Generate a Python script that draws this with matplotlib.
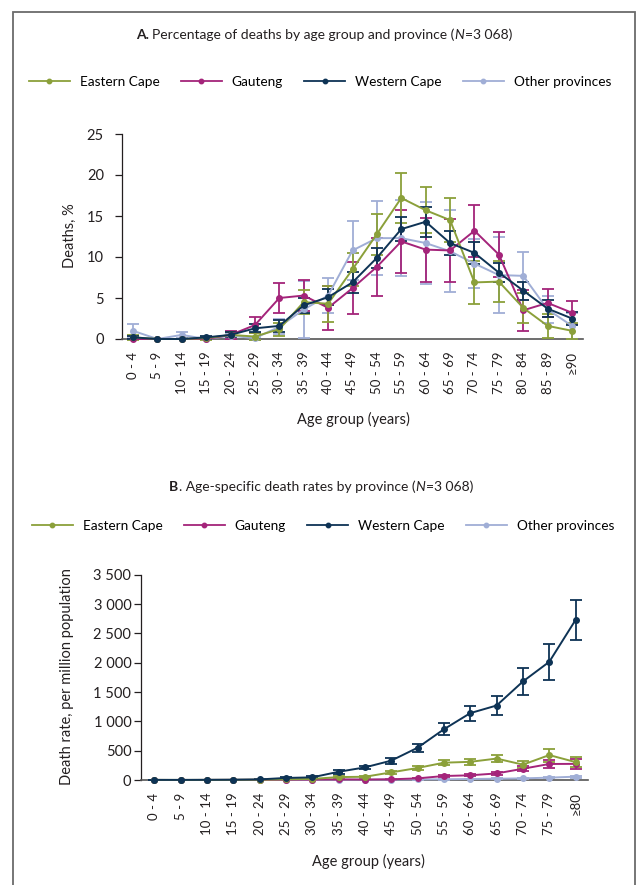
import matplotlib
matplotlib.use('Agg')
import matplotlib.pyplot as plt
from matplotlib.lines import Line2D
from matplotlib.patches import Rectangle
import numpy as np

plt.rcParams['font.family'] = ['Lato', 'DejaVu Sans']

# ---------------- data ----------------
series_names = ["Eastern Cape", "Gauteng", "Western Cape", "Other provinces"]
colors = ["#8BA03A", "#A4247A", "#0E3355", "#A0AED6"]

age_a = ["0 - 4", "5 - 9", "10 - 14", "15 - 19", "20 - 24", "25 - 29", "30 - 34",
         "35 - 39", "40 - 44", "45 - 49", "50 - 54", "55 - 59", "60 - 64", "65 - 69",
         "70 - 74", "75 - 79", "80 - 84", "85 - 89", "≥90"]

ec_pct = [0.2, 0, 0, 0.1, 0.5, 0.3, 1.2, 4.5, 4.3, 8.5, 12.8, 17.2, 15.7, 14.5, 6.9, 7.0, 3.8, 1.6, 1.0]
ec_pct_err = [0.3, 0, 0, 0.2, 0.3, 0.4, 0.8, 1.5, 2.2, 2.0, 2.5, 3.0, 2.8, 2.7, 2.6, 2.5, 1.8, 1.5, 1.0]
gp_pct = [0, 0, 0, 0, 0.5, 1.7, 5.0, 5.3, 3.8, 6.2, 8.8, 11.9, 10.9, 10.8, 13.2, 10.3, 3.5, 4.4, 3.2]
gp_pct_err = [0, 0, 0, 0, 0.5, 1.0, 1.8, 1.9, 2.7, 3.2, 3.5, 3.8, 3.9, 3.8, 3.2, 2.7, 2.5, 1.7, 1.4]
wc_pct = [0.2, 0, 0, 0.2, 0.5, 1.3, 1.6, 4.1, 5.1, 6.9, 9.9, 13.4, 14.3, 11.7, 10.5, 8.1, 5.9, 3.7, 2.5]
wc_pct_err = [0.2, 0, 0, 0.2, 0.3, 0.5, 0.7, 0.9, 1.0, 1.3, 1.2, 1.5, 1.8, 1.5, 1.3, 1.2, 1.1, 1.0, 0.8]
op_pct = [1.0, 0, 0.5, 0, 0.4, 0.1, 1.5, 3.6, 5.3, 10.8, 12.3, 12.3, 11.7, 10.7, 9.2, 7.8, 7.7, 3.6, 1.6]
op_pct_err = [0.8, 0, 0.4, 0, 0.3, 0.2, 0.9, 3.5, 2.1, 3.6, 4.5, 4.6, 5.0, 5.0, 3.0, 4.6, 2.9, 1.6, 1.6]

age_b = ["0 - 4", "5 - 9", "10 - 14", "15 - 19", "20 - 24", "25 - 29", "30 - 34",
         "35 - 39", "40 - 44", "45 - 49", "50 - 54", "55 - 59", "60 - 64", "65 - 69",
         "70 - 74", "75 - 79", "≥80"]

ec_rate = [2, 1, 2, 3, 5, 12, 18, 50, 55, 130, 205, 295, 310, 365, 262, 425, 305]
ec_rate_err = [2, 1, 2, 2, 3, 6, 8, 15, 15, 25, 35, 45, 50, 65, 65, 110, 80]
gp_rate = [1, 0, 1, 2, 3, 5, 8, 10, 8, 12, 28, 68, 80, 112, 192, 273, 275]
gp_rate_err = [1, 0, 1, 1, 2, 3, 4, 5, 4, 5, 10, 15, 18, 30, 40, 75, 85]
wc_rate = [2, 2, 3, 5, 10, 35, 45, 140, 215, 330, 550, 865, 1140, 1270, 1680, 2015, 2730]
wc_rate_err = [2, 2, 2, 3, 5, 12, 15, 30, 32, 50, 70, 105, 130, 160, 225, 310, 340]
op_rate = [1, 0, 1, 1, 2, 3, 4, 5, 5, 8, 10, 12, 17, 22, 28, 40, 57]
op_rate_err = [1, 0, 1, 1, 1, 2, 2, 3, 3, 3, 4, 5, 6, 7, 8, 10, 15]

yticks_a = [0, 5, 10, 15, 20, 25]
yticks_b = [0, 500, 1000, 1500, 2000, 2500, 3000, 3500]
yticklabels_b = ["0", "500", "1 000", "1 500", "2 000", "2 500", "3 000", "3 500"]

# ---------------- layout ----------------
W, H = 638, 885
fig = plt.figure(figsize=(W / 100, H / 100), dpi=100)
renderer = fig.canvas.get_renderer()


def fx(px):
    return px / W


def fy(py):
    return 1 - py / H


FS = 9.5
TXT = "#231f20"

# frame
fig.patches.append(Rectangle((fx(13), fy(900)), fx(635) - fx(13), (900 - 12) / H,
                             transform=fig.transFigure, fill=False,
                             edgecolor="#6b6b6b", linewidth=1.3, clip_on=False))


def rich_title(pieces, xc_px, y_px, fs):
    # pieces: (text, weight, style, gap_before_px)
    texts = []
    widths = []
    for (s, w, st, gap) in pieces:
        t = fig.text(0, fy(y_px), s, fontsize=fs, fontweight=w, fontstyle=st,
                     ha='left', va='center', color=TXT)
        texts.append(t)
        widths.append(t.get_window_extent(renderer).width)
    total = sum(widths) + sum(p[3] for p in pieces)
    x = xc_px - total / 2
    for t, wdt, p in zip(texts, widths, pieces):
        x += p[3]
        t.set_x(fx(x))
        x += wdt


def style_axes(ax, labels, ylim, yticks, yticklabels, ypad):
    x = np.arange(len(labels))
    ax.set_xticks(x)
    ax.set_xticklabels(labels, rotation=90, fontsize=FS, color=TXT)
    ax.tick_params(axis='x', length=0, pad=9)
    ax.set_ylim(*ylim)
    ax.set_yticks(yticks)
    ax.set_yticklabels(yticklabels, fontsize=FS + 1, color=TXT)
    ax.tick_params(axis='y', length=5, width=0.9, pad=ypad, color=TXT)
    for s in ["top", "right"]:
        ax.spines[s].set_visible(False)
    ax.spines["left"].set_color(TXT)
    ax.spines["left"].set_linewidth(0.9)
    ax.spines["bottom"].set_color("#555555")
    ax.spines["bottom"].set_linewidth(1.2)


def draw_series(ax, data):
    for (vals, errs, c) in data:
        x = np.arange(len(vals))
        ax.errorbar(x, vals, yerr=errs, color=c, marker='o', ms=4.0, lw=1.4,
                    elinewidth=1.3, capsize=4.5, capthick=1.3, ecolor=c,
                    clip_on=False, zorder=3)


def legend(y_px, x_center_px):
    handles = [Line2D([0], [0], color=c, lw=1.3, marker='o', ms=3.2) for c in colors]
    fig.legend(handles, series_names, loc='center',
               bbox_to_anchor=(fx(x_center_px), fy(y_px)), ncol=4, frameon=False,
               fontsize=FS + 0.3, handlelength=3.0, handletextpad=0.75,
               columnspacing=1.55, numpoints=1, borderpad=0, borderaxespad=0)


# ---- Panel A ----
axA = fig.add_axes([fx(122), fy(339), fx(583) - fx(122), (339 - 134) / H])
axA.set_xlim(-0.45, len(age_a) - 1 + 0.45)
draw_series(axA, [
    (op_pct, op_pct_err, colors[3]),
    (gp_pct, gp_pct_err, colors[1]),
    (ec_pct, ec_pct_err, colors[0]),
    (wc_pct, wc_pct_err, colors[2]),
])
style_axes(axA, age_a, (0, 25), yticks_a, [str(v) for v in yticks_a], 8)
fig.text(fx(70), fy(236), "Deaths, %", rotation=90, ha='center', va='center',
         fontsize=FS + 1, color=TXT)
fig.text(fx(353), fy(419), "Age group (years)", ha='center', va='center',
         fontsize=FS + 1, color=TXT)
rich_title([("A.", 'bold', 'normal', 0),
            ("Percentage of deaths by age group and province (", 'normal', 'normal', 3),
            ("N", 'normal', 'italic', 0),
            ("=3 068)", 'normal', 'normal', 0.5)], 324, 35, FS + 0.5)
legend(82, 320)

# ---- Panel B ----
axB = fig.add_axes([fx(141), fy(780), fx(588) - fx(141), (780 - 574.7) / H])
axB.set_xlim(-0.5, len(age_b) - 1 + 0.47)
draw_series(axB, [
    (op_rate, op_rate_err, colors[3]),
    (gp_rate, gp_rate_err, colors[1]),
    (ec_rate, ec_rate_err, colors[0]),
    (wc_rate, wc_rate_err, colors[2]),
])
style_axes(axB, age_b, (0, 3500), yticks_b, yticklabels_b, 2)
fig.text(fx(67), fy(677), "Death rate, per million population", rotation=90,
         ha='center', va='center', fontsize=FS + 1, color=TXT)
fig.text(fx(368), fy(861), "Age group (years)", ha='center', va='center',
         fontsize=FS + 1, color=TXT)
rich_title([("B", 'bold', 'normal', 0),
            (". Age-specific death rates by province (", 'normal', 'normal', 0.5),
            ("N", 'normal', 'italic', 0),
            ("=3 068)", 'normal', 'normal', 0.5)], 321, 487, FS + 0.5)
legend(526, 323)

fig.savefig("out.png", dpi=100)
